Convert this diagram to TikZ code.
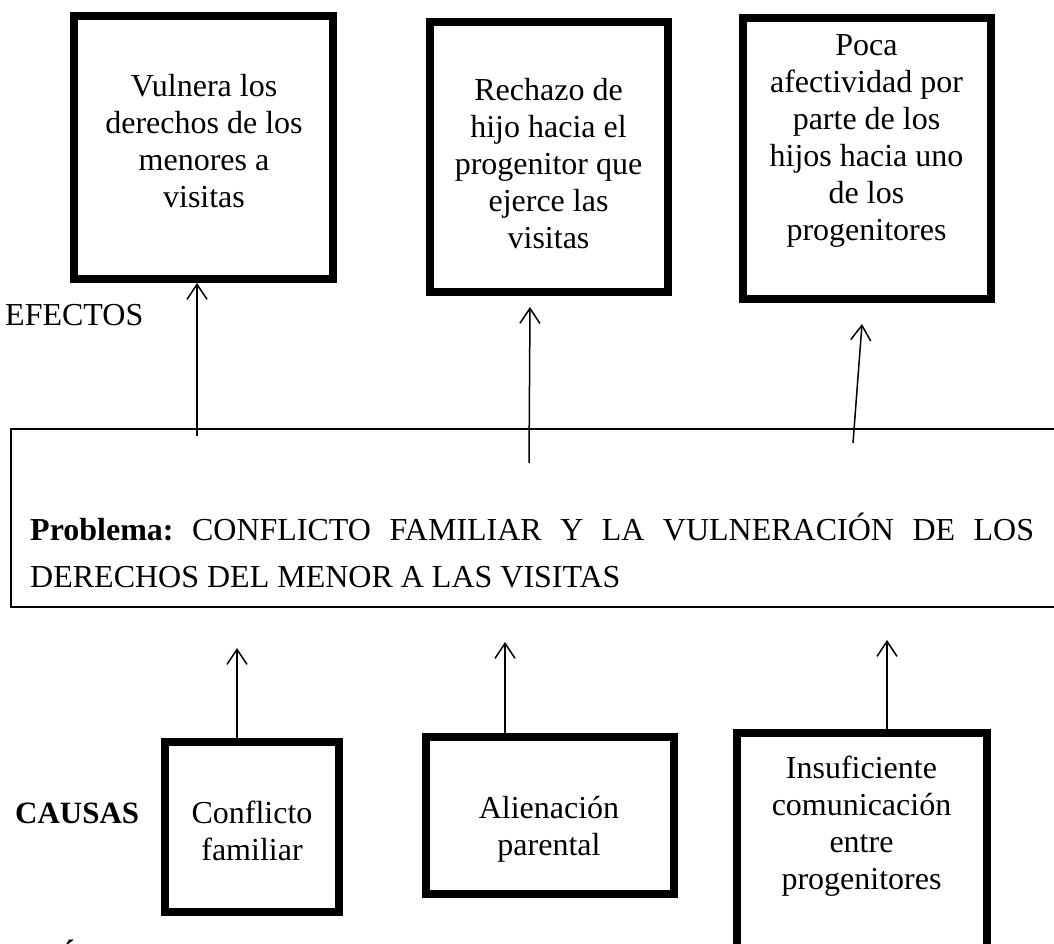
\documentclass[tikz,border=0pt]{standalone}
\usepackage{fontspec}
\setmainfont{Liberation Serif}
\usetikzlibrary{arrows.meta}
\frenchspacing

\tikzset{
    caja/.style={draw, line width=8pt, inner sep=0pt},
    texto/.style={align=center, font=\fontsize{32}{37}\selectfont, inner sep=0pt},
    flecha/.style={line width=1.5pt, -{Straight Barb[length=15pt, width=20pt, line width=1.5pt]}}
}

\begin{document}
\begin{tikzpicture}[x=1pt, y=-1pt]
        \useasboundingbox (0,0) rectangle (1054,944);
        \clip (0,0) rectangle (1054,944);

        % Efectos - cajas de borde grueso
        \node[caja, minimum width=259pt, minimum height=263pt] (E1) at (203.5,147.5) {};
        \node[caja, minimum width=238pt, minimum height=270pt] (E2) at (549,157) {};
        \node[caja, minimum width=248pt, minimum height=281pt] (E3) at (867,158.5) {};
        \node[texto] (E1t) at (204,141) {Vulnera los\\derechos de los\\menores a\\visitas};
        \node[texto] (E2t) at (548.5,164) {Rechazo de\\hijo hacia el\\progenitor que\\ejerce las\\visitas};
        \node[texto] (E3t) at (866.5,141) {Poca\\afectividad por\\parte de los\\hijos hacia uno\\de los\\progenitores};

        % Problema central
        \node[draw, line width=2pt, minimum width=1059pt, minimum height=178pt] (P) at (540.5,518) {};
        \node[anchor=base west, align=left, font=\fontsize{32}{47}\selectfont, inner sep=0pt] (Pt) at (30,587)
            {\makebox[1004pt][s]{\textbf{Problema:} CONFLICTO FAMILIAR Y LA VULNERACIÓN DE LOS}\\DERECHOS DEL MENOR A LAS VISITAS};

        % Causas
        \node[caja, minimum width=174pt, minimum height=170pt] (C1) at (252,827) {};
        \node[caja, minimum width=248pt, minimum height=157pt] (C2) at (550,815.5) {};
        \node[caja, minimum width=250pt, minimum height=227pt] (C3) at (862,846.5) {};
        \node[texto] (C1t) at (252,830.5) {Conflicto\\familiar};
        \node[texto] (C2t) at (549,829) {Alienación\\parental};
        \node[texto] (C3t) at (861.5,826) {Insuficiente\\comunicación\\entre\\progenitores};

        % Rotulos
        \node[anchor=base west, font=\fontsize{32}{37}\selectfont, inner sep=0pt] (ef) at (5,325) {EFECTOS};
        \node[anchor=base west, font=\fontsize{31}{37}\selectfont\bfseries, inner sep=0pt] (ca) at (15,823) {CAUSAS};
        \node[anchor=base west, font=\fontsize{32}{37}\selectfont\bfseries, inner sep=0pt] (tt) at (57,967) {Á};

        % Flechas problema -> efectos
        \coordinate (a1) at (197,436);
        \coordinate (a2) at (529,463);
        \coordinate (a3) at (853,443);
        \draw[flecha] (a1) -- (a1 |- E1.south);
        \draw[flecha] (a2) -- ([xshift=-19pt, yshift=-11pt]E2.south);
        \draw[flecha] (a3) -- ([xshift=-5pt, yshift=-21pt]E3.south);

        % Flechas causas -> problema
        \coordinate (c1) at (237,648);
        \coordinate (c2) at (505,642);
        \coordinate (c3) at (887,640);
        \draw[flecha] (c1 |- C1.north) -- (c1);
        \draw[flecha] (c2 |- C2.north) -- (c2);
        \draw[flecha] (c3 |- C3.north) -- (c3);
\end{tikzpicture}
\end{document}
